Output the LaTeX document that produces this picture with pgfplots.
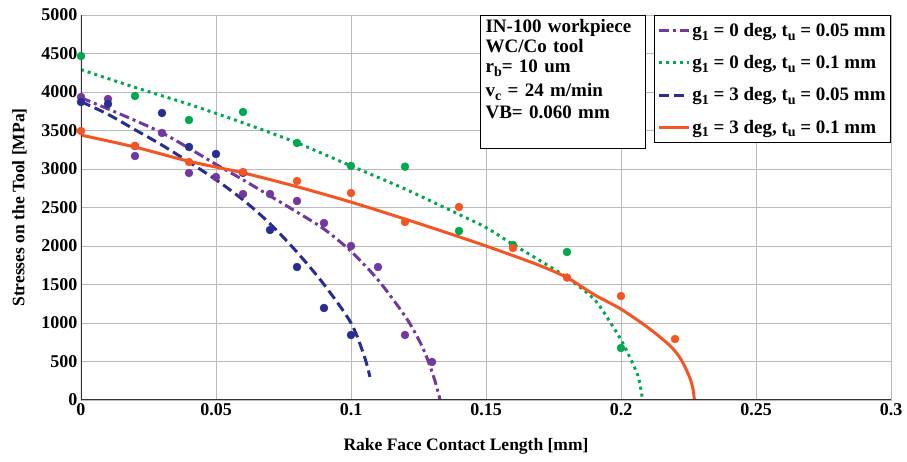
\documentclass[border=0pt]{standalone}
\usepackage{fontspec}
\setmainfont{Liberation Serif}
\usepackage{pgfplots}
\pgfplotsset{compat=1.18}
\usetikzlibrary{calc}
\definecolor{cpurple}{RGB}{115,55,160}
\definecolor{cgreen}{RGB}{0,168,80}
\definecolor{cblue}{RGB}{40,45,145}
\definecolor{corange}{RGB}{244,85,35}
\newcommand{\sub}[1]{\raisebox{-0.45ex}{\fontsize{14bp}{14bp}\selectfont #1}}
\begin{document}
\begin{tikzpicture}
\begin{axis}[
  scale only axis, width=810bp, height=385bp,
  xmin=0, xmax=0.3, ymin=0, ymax=5000,
  xtick={0,0.05,0.1,0.15,0.2,0.25,0.3},
  xticklabels={0,0.05,0.1,0.15,0.2,0.25,0.3},
  ytick={0,500,...,5000},
  /pgf/number format/assume math mode=true,
  /pgf/number format/1000 sep={},
  ticklabel style={font=\fontsize{18bp}{20bp}\selectfont\bfseries},
  major tick length=0pt,
  grid=major,
  major grid style={gray!55, line width=0.8bp},
  axis line style={gray!55, line width=0.8bp},
  xlabel={Rake Face Contact Length [mm]},
  ylabel={Stresses on the Tool [MPa]},
  label style={font=\fontsize{17.5bp}{19bp}\selectfont\bfseries},
  xlabel style={yshift=-16bp, xshift=-20bp},
  ylabel style={yshift=8bp},
  mark size=4bp,
  legend style={at={(1,1)}, anchor=north east, draw=black, line width=0.8bp,
    font=\fontsize{19bp}{21bp}\selectfont\bfseries, inner xsep=3bp, inner ysep=6bp,
    row sep=13.5bp, fill=white},
  legend cell align=left,
  legend image code/.code={\draw[#1] (0bp,0bp) -- (30bp,0bp);},
]
% scatter points
\addplot[only marks, mark=*, cpurple, forget plot] coordinates {
(0,3935) (0.01,3909) (0.02,3169) (0.03,3468) (0.04,2948) (0.05,2896) (0.06,2675)
(0.07,2675) (0.08,2584) (0.09,2298) (0.1,2000) (0.11,1727) (0.12,844) (0.13,494)};
\addplot[only marks, mark=*, cblue, forget plot] coordinates {
(0,3870) (0.01,3844) (0.02,3299) (0.03,3727) (0.04,3286) (0.05,3195) (0.06,2950)
(0.07,2208) (0.08,1727) (0.09,1195) (0.1,844)};
\addplot[only marks, mark=*, cgreen, forget plot] coordinates {
(0,4467) (0.02,3948) (0.04,3636) (0.06,3740) (0.08,3338) (0.1,3039) (0.12,3030)
(0.14,2195) (0.16,2013) (0.18,1922) (0.2,675)};
\addplot[only marks, mark=*, corange, forget plot] coordinates {
(0,3494) (0.02,3299) (0.04,3091) (0.06,2961) (0.08,2844) (0.1,2688) (0.12,2312)
(0.14,2506) (0.16,1974) (0.18,1590) (0.2,1350) (0.22,792)};
% fitted curves
\addplot[cpurple, line width=3bp, dash pattern=on 10bp off 4bp on 3bp off 4bp, smooth] coordinates {
(0,3925) (0.01,3780) (0.02,3630) (0.03,3470) (0.04,3270) (0.05,3060) (0.06,2860)
(0.07,2650) (0.08,2440) (0.09,2220) (0.1,1930) (0.11,1560) (0.12,1090) (0.125,790)
(0.128,560) (0.131,260) (0.133,0)};
\addlegendentry{g\sub{1} = 0 deg, t\sub{u} = 0.05 mm}
\addplot[cgreen, line width=3bp, dash pattern=on 3bp off 4bp, smooth] coordinates {
(0,4290) (0.02,4060) (0.04,3840) (0.06,3600) (0.08,3340) (0.1,3040) (0.12,2740)
(0.14,2410) (0.15,2240) (0.16,2020) (0.17,1810) (0.18,1590) (0.19,1310) (0.196,1010)
(0.2,780) (0.204,500) (0.2065,290) (0.208,0)};
\addlegendentry{g\sub{1} = 0 deg, t\sub{u} = 0.1 mm}
\addplot[cblue, line width=3bp, dash pattern=on 10bp off 5bp, smooth] coordinates {
(0,3875) (0.01,3710) (0.02,3510) (0.03,3310) (0.04,3090) (0.05,2860) (0.06,2600)
(0.07,2290) (0.08,1920) (0.09,1500) (0.1,1000) (0.105,560) (0.107,300)};
\addlegendentry{g\sub{1} = 3 deg, t\sub{u} = 0.05 mm}
\addplot[corange, line width=3bp, smooth] coordinates {
(0,3440) (0.02,3285) (0.04,3100) (0.06,2950) (0.08,2770) (0.1,2570)
(0.12,2350) (0.14,2120) (0.15,2000) (0.16,1875) (0.17,1745) (0.18,1590) (0.19,1370)
(0.2,1180) (0.21,940) (0.218,710) (0.222,540) (0.225,330) (0.2265,170) (0.2272,0)};
\addlegendentry{g\sub{1} = 3 deg, t\sub{u} = 0.1 mm}
\draw[black!80, line width=1.2bp] (rel axis cs:0,1) -- (rel axis cs:0,0) -- (rel axis cs:1,0);
\node[draw=black, line width=0.8bp, fill=white, anchor=north east, align=left,
  text width=155bp, inner xsep=5bp, inner ysep=4bp,
  font=\fontsize{19bp}{20bp}\selectfont\bfseries]
  at (rel axis cs:0.6975,1) {IN-100 workpiece\\WC/Co tool\\r\sub{b}= 10 um\\[4bp]v\sub{c} = 24 m/min\\[2bp]VB= 0.060 mm\rule[-26bp]{0pt}{1bp}};
\end{axis}
\pgfresetboundingbox
\path ($(current axis.south west)+(-81bp,-62bp)$) rectangle ($(current axis.north east)+(16bp,15bp)$);
\end{tikzpicture}
\end{document}
